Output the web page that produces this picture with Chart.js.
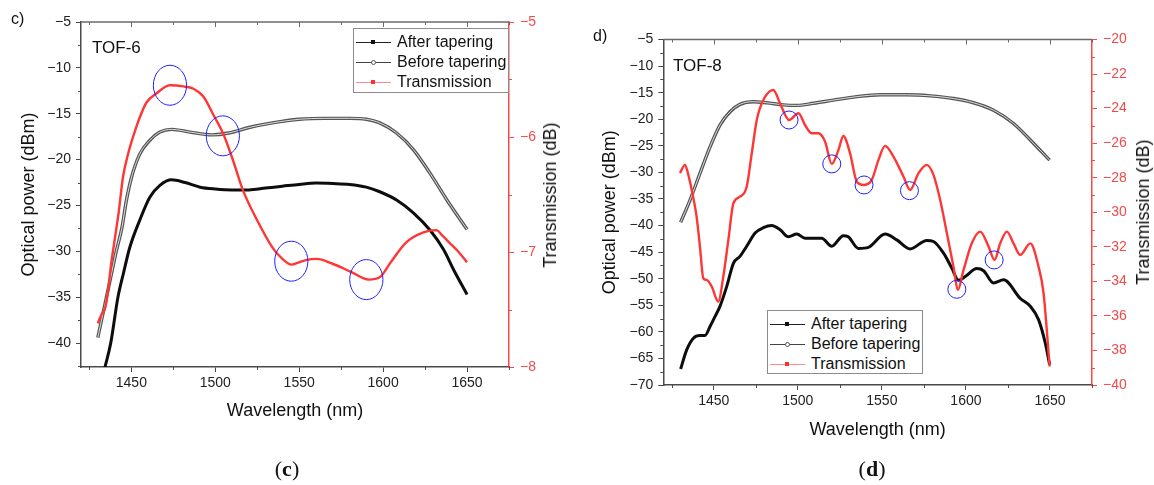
<!DOCTYPE html>
<html><head><meta charset="utf-8">
<script src="https://cdn.jsdelivr.net/npm/chart.js@4.4.1/dist/chart.umd.min.js"></script>
<style>
html,body{margin:0;padding:0;background:#fff;}
body{width:1154px;height:485px;position:relative;overflow:hidden;font-family:"Liberation Sans",Arial,Helvetica,sans-serif;color:#111;}
canvas{position:absolute;top:0;}
.t{position:absolute;white-space:nowrap;line-height:1;}
.rt{position:absolute;white-space:nowrap;line-height:1;font-size:18px;color:#111;transform:translate(-50%,-50%) rotate(-90deg);}
.cap{position:absolute;width:80px;text-align:center;font-family:"Liberation Serif","Times New Roman",serif;font-size:22px;line-height:1;color:#111;}
.legend{position:absolute;border:1px solid #8c8c8c;background:#fff;box-sizing:border-box;}
.row{position:absolute;left:0;height:20px;width:100%;}
.ln{position:absolute;left:2px;width:35px;height:1px;top:10px;}
.mk{position:absolute;left:17px;top:8px;width:4px;height:4px;}
.tx{position:absolute;left:43px;top:1px;font-size:16px;line-height:18px;color:#111;}
</style></head>
<body>
<canvas id="cC" width="580" height="485" style="left:0"></canvas>
<canvas id="cD" width="574" height="485" style="left:580px"></canvas>

<div class="t" style="left:11px;top:11px;font-size:16px;">c)</div>
<div class="t" style="left:92px;top:39px;font-size:17px;">TOF-6</div>
<div class="t" style="left:593px;top:28px;font-size:16px;">d)</div>
<div class="t" style="left:673px;top:57px;font-size:17px;">TOF-8</div>
<div class="rt" style="left:550px;top:195px;">Transmission (dB)</div>
<div class="rt" style="left:1143px;top:212px;">Transmission (dB)</div>
<div class="cap" style="left:247px;top:458px;">(<b>c</b>)</div>
<div class="cap" style="left:832px;top:458px;">(<b>d</b>)</div>

<div class="legend" id="legC" style="left:353px;top:28px;width:156px;height:65px;"></div>
<div class="legend" id="legD" style="left:767px;top:310px;width:156px;height:64px;"></div>

<script>
// ---------------- data ----------------
const seriesNames = ['After tapering', 'Before tapering', 'Transmission'];
const wavelengthTicks = [1450, 1500, 1550, 1600, 1650];
const cLeftTicks = [-40, -35, -30, -25, -20, -15, -10, -5];
const cRightTicks = [-8, -7, -6, -5];
const dLeftTicks = [-70, -65, -60, -55, -50, -45, -40, -35, -30, -25, -20, -15, -10, -5];
const dRightTicks = [-40, -38, -36, -34, -32, -30, -28, -26, -24, -22, -20];

// Panel (c) TOF-6
const cAfterX = [1434.3,1437.7,1442,1445.4,1449,1455,1461,1467,1474,1482,1491,1500,1510,1520,1530,1540,1550,1560,1570,1580,1590,1598,1608,1618,1628,1636,1642,1650];
const cAfterY = [-42.6,-40,-35,-32.3,-29.6,-26.6,-24.1,-22.8,-22.2,-22.5,-23.0,-23.2,-23.3,-23.3,-23.1,-22.9,-22.7,-22.55,-22.6,-22.7,-23.0,-23.5,-24.4,-25.8,-27.7,-29.8,-32,-34.7];
const cBeforeX = [1430,1434,1437.5,1441,1444.3,1447,1450,1455,1461,1467,1474,1485,1498,1508,1520,1534,1550,1565,1580,1590,1598,1608,1618,1628,1638,1650];
const cBeforeY = [-39.4,-36,-33,-30,-27.5,-24.5,-22,-19.4,-17.9,-17,-16.7,-17,-17.3,-17.1,-16.5,-16,-15.6,-15.5,-15.5,-15.6,-16,-17.1,-18.9,-21.5,-24.4,-27.6];
const cTransX = [1430,1432,1434.5,1436,1438,1440,1442.5,1445,1448,1451,1455,1459,1465,1473,1481,1487,1493,1498.6,1504.7,1510.5,1516.4,1524.8,1534,1540,1545.3,1550,1554,1560.5,1569.5,1580.5,1591.5,1598,1604.5,1613.5,1624,1631.7,1635.5,1639.6,1645,1650];
const cTransY = [-7.62,-7.55,-7.48,-7.35,-7.1,-6.9,-6.65,-6.35,-6.15,-6.0,-5.83,-5.7,-5.62,-5.55,-5.56,-5.58,-5.65,-5.8,-5.97,-6.2,-6.46,-6.72,-6.96,-7.06,-7.11,-7.09,-7.07,-7.06,-7.1,-7.17,-7.24,-7.22,-7.09,-6.92,-6.83,-6.81,-6.86,-6.92,-7.0,-7.09];
const cCircleX = [1473, 1504.5, 1545.3, 1590];
const cCircleY = [-5.55, -5.99, -7.08, -7.24];

// Panel (d) TOF-8
const dAfterX = [1430.3,1433.9,1437.9,1441.8,1444.8,1447.8,1450.8,1453.7,1457.7,1461.7,1465.6,1469.6,1474.6,1479.5,1484.5,1489.5,1494.4,1499.4,1504.3,1509.3,1514.2,1520.2,1527.1,1530,1536,1542,1551.9,1558.9,1566.8,1576.7,1580.7,1586.7,1591.6,1595.6,1599.6,1606.5,1610.5,1616.4,1622.4,1632.3,1638.3,1643.2,1647.2,1649.8];
const dAfterY = [-67,-63.4,-61.2,-60.7,-60.7,-59,-57.1,-55.2,-51.5,-47.1,-45.8,-43.9,-41.4,-40.4,-40,-40.8,-42.1,-41.6,-42.4,-42.4,-42.4,-43.9,-41.9,-42.1,-44.3,-44.1,-41.6,-42.7,-44.4,-42.8,-43,-45.2,-48,-50.3,-49.6,-48.1,-48.5,-50.8,-50.2,-53.7,-55.2,-57.7,-62.1,-66.2];
const dBeforeX = [1430.3,1435.9,1441.8,1447.8,1453.7,1459.7,1465.6,1473.6,1481.5,1491.4,1499.4,1509.3,1521.2,1535.1,1549,1564.8,1578.7,1592.6,1604.5,1616.4,1628.3,1638.3,1649.8];
const dBeforeY = [-39.4,-35.2,-30.2,-25.2,-21.1,-18.6,-17.2,-16.7,-16.9,-17.3,-17.4,-17.0,-16.4,-15.75,-15.4,-15.4,-15.6,-16.1,-16.9,-18.3,-20.8,-23.9,-27.7];
const dTransX = [1429.9,1432.9,1434.9,1436.9,1439.8,1441.8,1443.8,1445.8,1448.8,1452.7,1455.7,1458.7,1461.7,1465.6,1469.6,1472.6,1475.6,1479.5,1485.5,1489.4,1494.8,1500.4,1504.3,1508.3,1512.3,1516.2,1520.2,1524.2,1527.1,1531.1,1535.1,1539.4,1544,1548,1551.9,1556.9,1562.9,1566.8,1571.8,1576.7,1580.7,1584.7,1588.7,1592.6,1595.2,1598.6,1603.5,1608.5,1613.5,1617,1620.4,1624.4,1628.3,1632.3,1638.3,1643.2,1646.2,1649.8];
const dTransY = [-27.74,-27.26,-27.84,-28.71,-30.25,-31.99,-33.82,-33.92,-34.3,-35.17,-33.72,-31.6,-29.48,-29.1,-28.52,-26.6,-24.66,-23.5,-22.92,-23.69,-24.66,-24.27,-24.95,-25.43,-25.43,-25.91,-27.2,-26.39,-25.59,-26.59,-28.23,-28.42,-28.13,-26.97,-26.16,-26.78,-27.94,-28.71,-27.74,-27.26,-27.84,-29.29,-31.22,-33.15,-34.5,-33.34,-31.8,-31.12,-31.99,-32.76,-31.8,-31.12,-31.8,-32.47,-31.8,-33.15,-34.69,-38.93];
const dCircleX = [1494.8, 1520.2, 1539.4, 1566.4, 1594.6, 1616.8];
const dCircleY = [-24.66, -27.2, -28.42, -28.75, -34.46, -32.76];

// ---------------- helpers ----------------
const FONT = "'Liberation Sans', Arial, Helvetica, sans-serif";
Chart.defaults.font.family = FONT;
const RED = '#f24a4a';
const AXIS = '#4a4a4a';
const pts = (xs, ys) => xs.map((x, i) => ({x: x, y: ys[i]}));
const fmt = v => (v < 0 ? '\u2212' + Math.abs(v) : String(v));

function minorValues(major, min, max) {
  const step = major[1] - major[0];
  const out = [];
  for (let v = major[0] - step; v <= major[major.length - 1] + step + 1e-9; v += step / 2) {
    const r = Math.round(v * 1000) / 1000;
    if (r < min - 1e-9 || r > max + 1e-9) continue;
    if (major.some(m => Math.abs(m - r) < 1e-6)) continue;
    out.push(r);
  }
  return out;
}

const decor = {
  id: 'decor',
  afterDatasetsDraw(chart, args, o) {
    const ctx = chart.ctx, a = chart.chartArea;
    const sx = chart.scales.x, yl = chart.scales.yL, yr = chart.scales.yR;
    ctx.save();
    ctx.lineWidth = 1.5; ctx.strokeStyle = '#6a6a6a';
    ctx.beginPath(); ctx.moveTo(a.left, a.top); ctx.lineTo(a.right, a.top); ctx.stroke();
    ctx.lineWidth = 1;
    const xMinor = minorValues(o.xTicks, sx.min, sx.max);
    ctx.beginPath();
    o.xTicks.forEach(v => { const p = Math.round(sx.getPixelForValue(v)) + 0.5; ctx.moveTo(p, a.top); ctx.lineTo(p, a.top + 5); });
    xMinor.forEach(v => { const p = Math.round(sx.getPixelForValue(v)) + 0.5; ctx.moveTo(p, a.top); ctx.lineTo(p, a.top + 3); });
    ctx.stroke();
    ctx.strokeStyle = AXIS;
    ctx.beginPath();
    xMinor.forEach(v => { const p = Math.round(sx.getPixelForValue(v)) + 0.5; ctx.moveTo(p, a.bottom); ctx.lineTo(p, a.bottom + 3); });
    ctx.stroke();
    ctx.beginPath();
    minorValues(o.yLTicks, yl.min, yl.max).forEach(v => { const p = Math.round(yl.getPixelForValue(v)) + 0.5; ctx.moveTo(a.left, p); ctx.lineTo(a.left - 3, p); });
    ctx.stroke();
    ctx.strokeStyle = RED;
    ctx.beginPath();
    minorValues(o.yRTicks, yr.min, yr.max).forEach(v => { const p = Math.round(yr.getPixelForValue(v)) + 0.5; ctx.moveTo(a.right, p); ctx.lineTo(a.right + 3, p); });
    ctx.stroke();
    ctx.strokeStyle = '#2020ff'; ctx.lineWidth = 1;
    o.circX.forEach((cx, i) => {
      ctx.beginPath();
      ctx.ellipse(sx.getPixelForValue(cx), yr.getPixelForValue(o.circY[i]), o.rx, o.ry, 0, 0, Math.PI * 2);
      ctx.stroke();
    });
    ctx.restore();
  }
};

function makePanel(id, P) {
  const tickFont = {size: 14, family: FONT};
  const titleFont = {size: 18, family: FONT};
  return new Chart(document.getElementById(id), {
    type: 'line',
    data: {datasets: [
      {label: seriesNames[2], data: pts(P.transX, P.transY), yAxisID: 'yR', order: 0,
       borderColor: '#ff3636', borderWidth: 2.4, pointRadius: 0, cubicInterpolationMode: 'monotone'},
      {label: seriesNames[0], data: pts(P.afterX, P.afterY), yAxisID: 'yL', order: 1,
       borderColor: '#0d0d0d', borderWidth: 3, pointRadius: 0, cubicInterpolationMode: 'monotone'},
      {label: '', data: pts(P.beforeX, P.beforeY), yAxisID: 'yL', order: 2,
       borderColor: 'rgba(235,235,235,0.9)', borderWidth: 1, pointRadius: 0, cubicInterpolationMode: 'monotone'},
      {label: seriesNames[1], data: pts(P.beforeX, P.beforeY), yAxisID: 'yL', order: 3,
       borderColor: '#555555', borderWidth: 3.4, pointRadius: 0, cubicInterpolationMode: 'monotone'}
    ]},
    options: {
      responsive: false, animation: false, events: [],
      layout: {padding: {top: P.padTop, left: 0, right: 0, bottom: 0}},
      plugins: {legend: {display: false}, tooltip: {enabled: false},
        decor: {xTicks: wavelengthTicks, yLTicks: P.leftTicks, yRTicks: P.rightTicks,
                circX: P.circX, circY: P.circY, rx: P.rx, ry: P.ry}},
      scales: {
        x: {type: 'linear', position: 'bottom', min: 1420, max: 1675,
            afterBuildTicks: s => { s.ticks = wavelengthTicks.map(v => ({value: v})); },
            afterFit: s => { s.height = P.xH; },
            ticks: {font: tickFont, color: '#222', padding: 3, maxRotation: 0, autoSkip: false, callback: v => String(v)},
            grid: {drawOnChartArea: false, tickLength: 5, color: AXIS, tickColor: AXIS},
            border: {color: AXIS, width: 1.5},
            title: {display: true, text: 'Wavelength (nm)', font: titleFont, color: '#111', padding: {top: 0, bottom: P.xTitleOff - 10.8}}},
        yL: {type: 'linear', position: 'left', min: P.leftMin, max: P.leftMax,
            afterBuildTicks: s => { s.ticks = P.leftTicks.map(v => ({value: v})); },
            afterFit: s => { s.width = P.lW; },
            ticks: {font: tickFont, color: '#222', padding: 5, autoSkip: false, callback: v => fmt(v)},
            grid: {drawOnChartArea: false, tickLength: 5, color: AXIS, tickColor: AXIS},
            border: {color: AXIS, width: 1.5},
            title: {display: true, text: 'Optical power (dBm)', font: titleFont, color: '#111', padding: {top: P.lTitleOff - 10.8, bottom: 0}}},
        yR: {type: 'linear', position: 'right', min: P.rightMin, max: P.rightMax,
            afterBuildTicks: s => { s.ticks = P.rightTicks.map(v => ({value: v})); },
            afterFit: s => { s.width = P.rW; },
            ticks: {font: tickFont, color: RED, padding: 6, autoSkip: false, callback: v => fmt(v)},
            grid: {drawOnChartArea: false, tickLength: 5, color: RED, tickColor: RED},
            border: {color: RED, width: 1.5},
            title: {display: false}}
      }
    },
    plugins: [decor]
  });
}

makePanel('cC', {
  afterX: cAfterX, afterY: cAfterY, beforeX: cBeforeX, beforeY: cBeforeY, transX: cTransX, transY: cTransY,
  circX: cCircleX, circY: cCircleY, rx: 16.6, ry: 20,
  leftTicks: cLeftTicks, rightTicks: cRightTicks, leftMin: -42.6, leftMax: -5, rightMin: -8, rightMax: -5,
  padTop: 22, lW: 81, rW: 71, xH: 118, lTitleOff: 29, xTitleOff: 74
});
makePanel('cD', {
  afterX: dAfterX, afterY: dAfterY, beforeX: dBeforeX, beforeY: dBeforeY, transX: dTransX, transY: dTransY,
  circX: dCircleX, circY: dCircleY, rx: 9, ry: 9,
  leftTicks: dLeftTicks, rightTicks: dRightTicks, leftMin: -70, leftMax: -5, rightMin: -40, rightMax: -20,
  padTop: 39.5, lW: 83.3, rW: 62, xH: 100, lTitleOff: 30, xTitleOff: 55
});

// ---------------- legends ----------------
const legendStyle = [
  {line: '#222', mk: 'background:#111;'},
  {line: '#444', mk: 'background:#fff;border:1px solid #555;border-radius:50%;width:3px;height:3px;top:8px;'},
  {line: '#ff8a8a', mk: 'background:#ff3030;'}
];
function buildLegend(id) {
  const el = document.getElementById(id);
  seriesNames.forEach((name, i) => {
    const r = document.createElement('div');
    r.className = 'row';
    r.style.top = (3 + i * 20) + 'px';
    r.innerHTML = '<div class="ln" style="background:' + legendStyle[i].line + '"></div>' +
      '<div class="mk" style="' + legendStyle[i].mk + '"></div>' +
      '<div class="tx">' + name + '</div>';
    el.appendChild(r);
  });
}
buildLegend('legC');
buildLegend('legD');
</script>
</body></html>
